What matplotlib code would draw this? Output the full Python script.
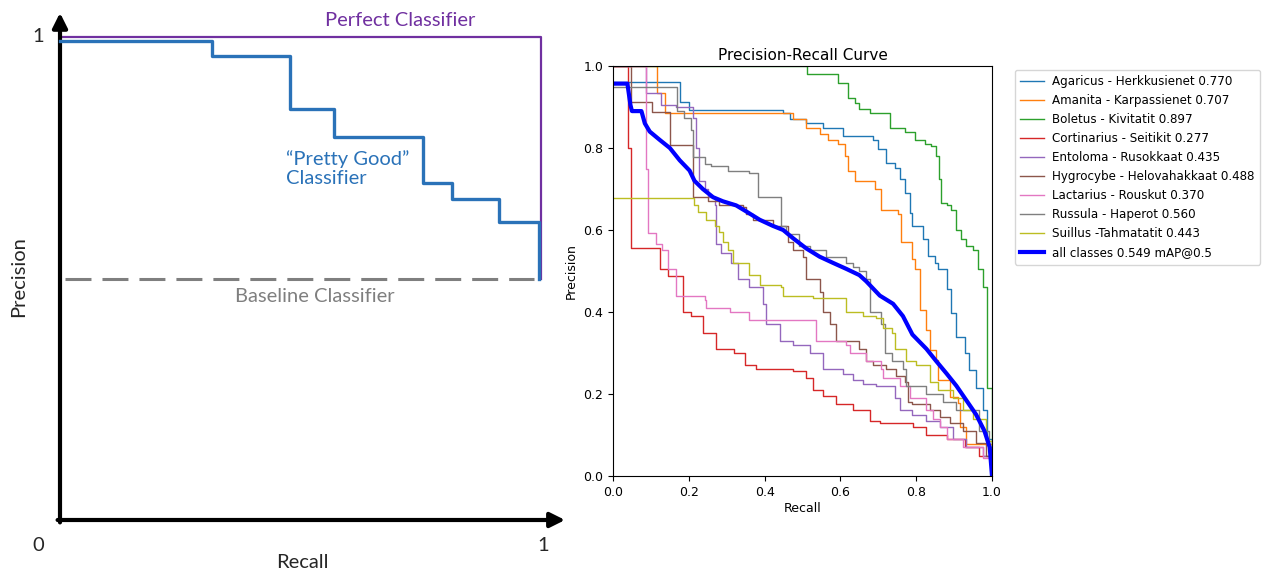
import matplotlib
matplotlib.use("Agg")
import matplotlib.pyplot as plt

# ---- left panel: schematic PR curve ----
good_recall = [0.0, 0.315, 0.315, 0.478, 0.478, 0.569, 0.569, 0.755, 0.755, 0.816, 0.816, 0.913, 0.913, 0.995, 0.995]
good_precision = [0.992, 0.992, 0.960, 0.960, 0.851, 0.851, 0.793, 0.793, 0.697, 0.697, 0.664, 0.664, 0.617, 0.617, 0.5]
perfect_recall = [0.0, 1.0, 1.0]
perfect_precision = [1.0, 1.0, 0.5]
baseline_recall = [0.01, 0.985]
baseline_precision = [0.5, 0.5]

# ---- right panel: per-class PR curves ----
class_names = [
    "Agaricus - Herkkusienet 0.770",
    "Amanita - Karpassienet 0.707",
    "Boletus - Kivitatit 0.897",
    "Cortinarius - Seitikit 0.277",
    "Entoloma - Rusokkaat 0.435",
    "Hygrocybe - Helovahakkaat 0.488",
    "Lactarius - Rouskut 0.370",
    "Russula - Haperot 0.560",
    "Suillus -Tahmatatit 0.443",
]

agaricus_r = [0, 0.165, 0.176, 0.2, 0.413, 0.449, 0.466, 0.51, 0.554, 0.607, 0.686, 0.70, 0.72, 0.743, 0.756, 0.77, 0.783,
              0.79, 0.818, 0.831, 0.849, 0.858, 0.88, 0.893, 0.906, 0.928, 0.94, 0.958, 0.976, 0.987, 1.0]
agaricus_p = [0.962, 0.962, 0.913, 0.893, 0.893, 0.885, 0.87, 0.86, 0.85, 0.83, 0.82, 0.797, 0.764, 0.752, 0.724, 0.69, 0.642,
              0.61, 0.577, 0.537, 0.52, 0.504, 0.455, 0.397, 0.34, 0.30, 0.259, 0.214, 0.16, 0.09, 0.0]

amanita_r = [0, 0.115, 0.115, 0.137, 0.137, 0.453, 0.475, 0.51, 0.545, 0.567, 0.594, 0.611, 0.62, 0.638, 0.69, 0.708, 0.752,
             0.76, 0.79, 0.796, 0.81, 0.827, 0.836, 0.853, 0.858, 0.888, 0.91, 0.915, 0.932, 1.0]
amanita_p = [1.0, 1.0, 0.933, 0.933, 0.885, 0.885, 0.87, 0.85, 0.835, 0.82, 0.81, 0.78, 0.745, 0.72, 0.70, 0.65, 0.64,
             0.57, 0.53, 0.504, 0.406, 0.357, 0.308, 0.283, 0.234, 0.193, 0.177, 0.12, 0.079, 0.0]

boletus_r = [0, 0.513, 0.513, 0.594, 0.62, 0.638, 0.65, 0.677, 0.73, 0.77, 0.796, 0.822, 0.84, 0.853, 0.86, 0.866, 0.88,
             0.893, 0.905, 0.919, 0.932, 0.95, 0.963, 0.976, 0.987, 0.987, 1.0, 1.0]
boletus_p = [1.0, 1.0, 0.98, 0.959, 0.923, 0.91, 0.894, 0.886, 0.85, 0.84, 0.82, 0.81, 0.805, 0.78, 0.724, 0.667, 0.66,
             0.65, 0.60, 0.577, 0.56, 0.55, 0.504, 0.46, 0.455, 0.214, 0.214, 0.0]

cortinarius_r = [0, 0.039, 0.039, 0.047, 0.047, 0.123, 0.145, 0.185, 0.207, 0.22, 0.237, 0.273, 0.32, 0.347, 0.378, 0.475,
                 0.51, 0.528, 0.554, 0.589, 0.633, 0.677, 0.704, 0.757, 0.792, 0.827, 0.88, 0.93, 0.967, 1.0]
cortinarius_p = [1.0, 1.0, 0.80, 0.80, 0.557, 0.504, 0.488, 0.40, 0.39, 0.39, 0.35, 0.31, 0.30, 0.27, 0.26, 0.255,
                 0.24, 0.21, 0.195, 0.175, 0.16, 0.135, 0.13, 0.13, 0.12, 0.10, 0.09, 0.07, 0.05, 0.0]

entoloma_r = [0, 0.086, 0.086, 0.127, 0.166, 0.21, 0.22, 0.228, 0.242, 0.25, 0.268, 0.273, 0.286, 0.312, 0.33, 0.343, 0.36,
              0.396, 0.405, 0.44, 0.475, 0.52, 0.554, 0.607, 0.633, 0.66, 0.695, 0.743, 0.756, 0.79, 0.827, 0.862, 0.897,
              0.932, 0.976, 1.0]
entoloma_p = [1.0, 1.0, 0.933, 0.905, 0.90, 0.873, 0.80, 0.72, 0.70, 0.68, 0.66, 0.565, 0.545, 0.52, 0.48, 0.48, 0.46,
              0.42, 0.37, 0.33, 0.32, 0.30, 0.26, 0.25, 0.235, 0.225, 0.22, 0.19, 0.16, 0.15, 0.135, 0.12, 0.09,
              0.07, 0.05, 0.0]

hygrocybe_r = [0, 0.048, 0.048, 0.102, 0.15, 0.15, 0.211, 0.211, 0.25, 0.28, 0.343, 0.352, 0.37, 0.422, 0.462, 0.475, 0.50,
               0.51, 0.545, 0.554, 0.572, 0.589, 0.65, 0.668, 0.686, 0.72, 0.748, 0.77, 0.778, 0.79, 0.836, 0.862, 0.888,
               0.923, 0.958, 0.985, 1.0]
hygrocybe_p = [1.0, 1.0, 0.913, 0.889, 0.889, 0.807, 0.807, 0.68, 0.67, 0.66, 0.655, 0.64, 0.625, 0.61, 0.57, 0.55, 0.535,
               0.48, 0.45, 0.40, 0.37, 0.33, 0.31, 0.28, 0.27, 0.26, 0.245, 0.23, 0.18, 0.175, 0.16, 0.145, 0.13,
               0.11, 0.08, 0.05, 0.0]

lactarius_r = [0, 0.086, 0.086, 0.093, 0.093, 0.114, 0.128, 0.145, 0.167, 0.167, 0.242, 0.246, 0.308, 0.36, 0.536, 0.536,
               0.616, 0.625, 0.668, 0.708, 0.712, 0.756, 0.783, 0.827, 0.844, 0.862, 0.88, 0.923, 0.976, 1.0]
lactarius_p = [1.0, 1.0, 0.75, 0.75, 0.593, 0.565, 0.55, 0.504, 0.504, 0.44, 0.43, 0.41, 0.40, 0.38, 0.38, 0.33,
               0.32, 0.30, 0.28, 0.26, 0.24, 0.22, 0.19, 0.16, 0.14, 0.12, 0.09, 0.07, 0.045, 0.0]

russula_r = [0, 0.17, 0.17, 0.188, 0.205, 0.21, 0.243, 0.258, 0.303, 0.36, 0.383, 0.383, 0.444, 0.444, 0.457, 0.49, 0.52,
             0.563, 0.616, 0.633, 0.65, 0.668, 0.677, 0.708, 0.717, 0.735, 0.765, 0.774, 0.827, 0.87, 0.906, 0.967,
             0.993, 1.0]
russula_p = [0.95, 0.95, 0.89, 0.873, 0.845, 0.779, 0.76, 0.755, 0.745, 0.74, 0.735, 0.68, 0.68, 0.61, 0.59, 0.56, 0.55,
             0.535, 0.52, 0.51, 0.50, 0.48, 0.40, 0.37, 0.30, 0.28, 0.26, 0.22, 0.20, 0.18, 0.16, 0.11,
             0.07, 0.0]

suillus_r = [0, 0.207, 0.215, 0.224, 0.246, 0.268, 0.28, 0.29, 0.303, 0.317, 0.352, 0.36, 0.387, 0.444, 0.449, 0.528, 0.616,
             0.616, 0.66, 0.695, 0.712, 0.735, 0.743, 0.774, 0.80, 0.836, 0.858, 0.897, 0.923, 0.95, 0.985, 1.0, 1.0]
suillus_p = [0.678, 0.678, 0.66, 0.645, 0.625, 0.61, 0.595, 0.57, 0.55, 0.52, 0.52, 0.49, 0.465, 0.46, 0.44, 0.435, 0.42,
             0.40, 0.39, 0.385, 0.36, 0.35, 0.31, 0.28, 0.27, 0.23, 0.21, 0.19, 0.16, 0.14, 0.085, 0.06, 0.0]

all_r = [0, 0.038, 0.046, 0.05, 0.075, 0.084, 0.097, 0.123, 0.15, 0.176, 0.202, 0.215, 0.237, 0.264, 0.29, 0.325, 0.352,
         0.387, 0.422, 0.449, 0.475, 0.51, 0.545, 0.58, 0.616, 0.65, 0.668, 0.704, 0.739, 0.765, 0.79, 0.827, 0.853,
         0.88, 0.906, 0.932, 0.958, 0.98, 0.994, 1.0]
all_p = [0.957, 0.957, 0.905, 0.89, 0.89, 0.86, 0.84, 0.82, 0.80, 0.77, 0.745, 0.72, 0.70, 0.68, 0.67, 0.66, 0.645,
         0.625, 0.61, 0.60, 0.58, 0.555, 0.535, 0.52, 0.505, 0.49, 0.475, 0.44, 0.42, 0.39, 0.345, 0.31, 0.28,
         0.25, 0.22, 0.185, 0.15, 0.11, 0.07, 0.0]
all_label = "all classes 0.549 mAP@0.5"

class_curves = [
    (agaricus_r, agaricus_p), (amanita_r, amanita_p), (boletus_r, boletus_p),
    (cortinarius_r, cortinarius_p), (entoloma_r, entoloma_p), (hygrocybe_r, hygrocybe_p),
    (lactarius_r, lactarius_p), (russula_r, russula_p), (suillus_r, suillus_p),
]

fig = plt.figure(figsize=(12.69, 5.73), dpi=100)

# left schematic, axes span the left part of the figure
# data (0,0) sits at px (60,520), (1,1) at px (541,37)
ax1 = fig.add_axes([0, 0, 570 / 1269, 1])
ax1.set_xlim(-60 / 481, 510 / 481)
ax1.set_ylim(-53 / 483, 520 / 483)
ax1.axis("off")

lato = "Lato"
fs = 14.5
ax1.plot(perfect_recall, perfect_precision, color="#7030A0", lw=1.6, zorder=3)
ax1.plot(good_recall, good_precision, color="#2A72B8", lw=2.4, zorder=4)
ax1.plot(baseline_recall, baseline_precision, color="#7F7F7F", lw=2.2, linestyle=(0, (8.5, 3.6)))

arrow = dict(arrowstyle="-|>", color="black", lw=3, mutation_scale=22, shrinkA=0, shrinkB=0)
ax1.annotate("", xy=(0, 1.05), xytext=(0, -0.005), arrowprops=arrow)
ax1.annotate("", xy=(1.05, 0), xytext=(-0.005, 0), arrowprops=arrow)

ax1.text(-0.046, 1.0, "1", fontsize=fs, family=lato, ha="center", va="center", color="#262626")
ax1.text(-0.046, -0.052, "0", fontsize=fs, family=lato, ha="center", va="center", color="#262626")
ax1.text(1.004, -0.052, "1", fontsize=fs, family=lato, ha="center", va="center", color="#262626")
ax1.text(-0.087, 0.503, "Precision", fontsize=fs, family=lato, rotation=90, ha="center", va="center", color="#262626")
ax1.text(0.503, -0.087, "Recall", fontsize=fs, family=lato, ha="center", va="center", color="#262626")
ax1.text(0.707, 1.035, "Perfect Classifier", fontsize=fs, family=lato, ha="center", va="center", color="#7030A0")
ax1.text(0.47, 0.728, "\u201cPretty Good\u201d\nClassifier", fontsize=fs, family=lato, ha="left", va="center",
         color="#2A72B8", linespacing=1.15)
ax1.text(0.53, 0.462, "Baseline Classifier", fontsize=fs, family=lato, ha="center", va="center", color="#7F7F7F")

# right: PR curve plot
ax2 = fig.add_axes([613 / 1269, 97 / 573, 379 / 1269, 410 / 573])
for (r, p), name in zip(class_curves, class_names):
    ax2.plot(r, p, lw=1, drawstyle="steps-post", label=name)
ax2.plot(all_r, all_p, lw=3, color="blue", label=all_label)

ax2.set_xlim(0, 1)
ax2.set_ylim(0, 1)
ax2.tick_params(labelsize=9)
ax2.set_xlabel("Recall", fontsize=9, labelpad=2)
ax2.set_ylabel("Precision", fontsize=9, labelpad=4)
ax2.set_title("Precision-Recall Curve", fontsize=11, pad=4)
ax2.legend(loc="upper left", bbox_to_anchor=(1.06, 0.99), borderaxespad=0, fontsize=8.6,
           handletextpad=0.7, borderpad=0.45)

fig.savefig("out.png", dpi=100)
